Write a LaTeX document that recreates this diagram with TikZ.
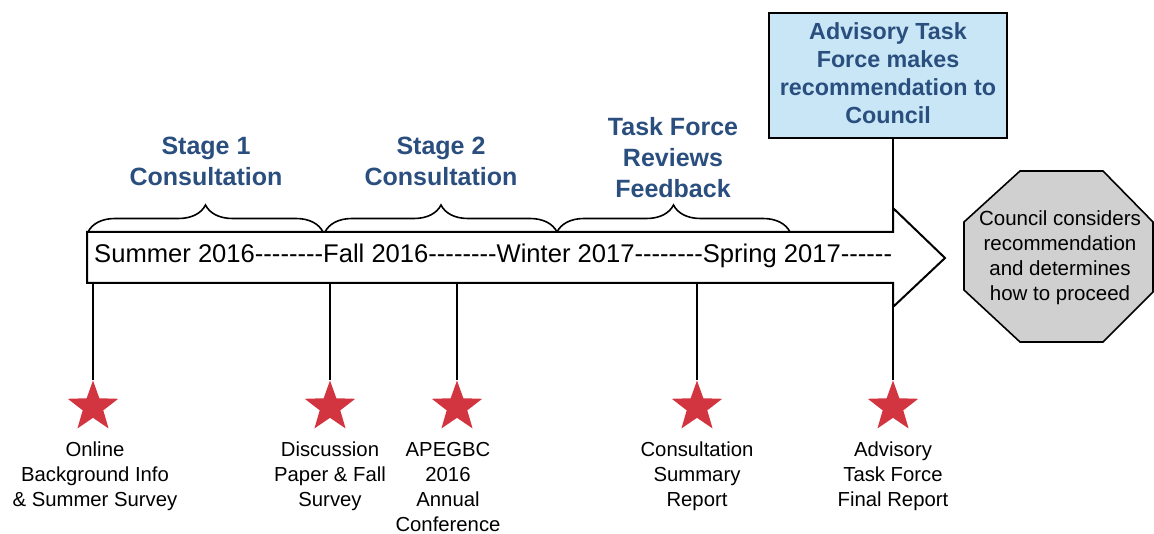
\documentclass[tikz,border=0pt]{standalone}
\usepackage{fontspec}
\setmainfont{Liberation Sans}
\usetikzlibrary{shapes.geometric,decorations.pathreplacing}
\definecolor{stagecol}{RGB}{42,78,126}
\definecolor{boxfill}{RGB}{200,230,246}
\definecolor{starred}{RGB}{210,52,64}
\definecolor{octfill}{RGB}{208,208,208}
\newcommand{\hyph}{-{}-{}-{}-{}-{}-{}-{}-{}}
\newcommand{\hyphs}{-{}-{}-{}-{}-{}-{}}
\tikzset{
  stagelbl/.style={font=\fontsize{25}{31}\selectfont\bfseries, text=stagecol, align=center, inner sep=0},
  evstar/.style={star, star points=5, star point ratio=2.45, fill=starred, draw=none, minimum size=53pt, inner sep=0},
  evlbl/.style={font=\fontsize{20.3}{25}\selectfont, align=center, inner sep=0, anchor=north},
  tick/.style={line width=1.6pt},
  bracestyle/.style={line width=1.6pt, decorate, decoration={brace, amplitude=27pt}},
}
\begin{document}
\begin{tikzpicture}[x=1pt,y=-1pt]
\useasboundingbox (0,0) rectangle (1154,534);
% timeline arrow
\draw[line width=2pt, line join=miter, fill=white] (87,232) -- (893,232) -- (893,208) -- (945,258) -- (893,307) -- (893,283) -- (87,283) -- cycle;
\node[anchor=west, font=\fontsize{25.6}{30}\selectfont, inner sep=0] (tl) at (94,256) {Summer 2016\hyph Fall 2016\hyph Winter 2017\hyph Spring 2017\hyphs};
% braces
\draw[bracestyle] (88,232) -- (323,232);
\draw[bracestyle] (325,232) -- (557,232);
\draw[bracestyle] (557,232) -- (790,232);
% stage labels
\node[stagelbl] (s1) at (206,161) {Stage 1\\Consultation};
\node[stagelbl] (s2) at (441,161) {Stage 2\\Consultation};
\node[stagelbl] (s3) at (673,158) {Task Force\\Reviews\\Feedback};
% advisory box
\node[draw, line width=1.6pt, fill=boxfill, minimum width=238pt, minimum height=125pt, inner sep=0] (atf) at (888,75.5) {};
\node[font=\fontsize{23.3}{28}\selectfont\bfseries, text=stagecol, align=center, inner sep=0] (atftext) at (888,73.5)
      {Advisory Task\\Force makes\\recommendation to\\Council};
\coordinate (atop) at (893,232);
\draw[tick] (atf.south -| atop) -- (atop);
% council octagon
\draw[line width=1.6pt, fill=octfill, line join=miter] (1020,342) -- (1103,342) -- (1153,292) -- (1153,222) -- (1103,171) -- (1020,171) -- (964,222) -- (964,290) -- cycle;
\node[font=\fontsize{20.5}{25}\selectfont, align=center, inner sep=0] (council) at (1060,258)
      {Council considers\\recommendation\\and determines\\how to proceed};
% events
\foreach \n/\x in {a/93,b/330,c/457,d/697,e/893}{
  \node[evstar] (st\n) at (\x,407) {};
  \coordinate (tk\n) at (\x,283);
  \draw[tick] (tk\n) -- (st\n.north);
}
\node[evlbl] (la) at (95,442) {Online\\Background Info\\\& Summer Survey};
\node[evlbl] (lb) at (330,442) {Discussion\\Paper \& Fall\\Survey};
\node[evlbl] (lc) at (448,442) {APEGBC\\2016\\Annual\\Conference};
\node[evlbl] (ld) at (697,442) {Consultation\\Summary\\Report};
\node[evlbl] (le) at (893,442) {Advisory\\Task Force\\Final Report};
\end{tikzpicture}
\end{document}
